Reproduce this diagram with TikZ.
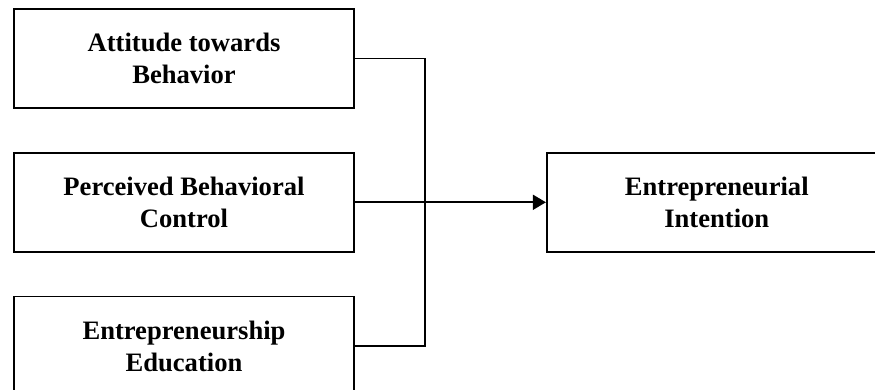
\documentclass[tikz,border=0pt]{standalone}
\usepackage{fontspec}
\setmainfont{Liberation Serif}
\usetikzlibrary{arrows.meta, positioning}

\begin{document}
\begin{tikzpicture}[
      x=0.5pt, y=0.5pt,
      node distance=21.5pt and 95.5pt,
      box/.style={draw, line width=0.9pt, minimum width=170pt, minimum height=49.5pt, align=center,
        font=\fontsize{13.3}{16}\selectfont\bfseries},
      link/.style={line width=0.9pt}
    ]
    \useasboundingbox (0,0) rectangle (875,390);
    \node[box] (att) at (184,331.5) {Attitude towards\\Behavior};
    \node[box, below=of att] (pbc) {Perceived Behavioral\\Control};
    \node[box, below=of pbc] (edu) {Entrepreneurship\\Education};
    \node[box, right=of pbc] (ei) {Entrepreneurial\\Intention};
    \coordinate[right=35pt of att.east] (bus);

    \draw[link] (att.east) -- (bus) |- (edu.east);
    \draw[link, -{Triangle[length=6.5pt, width=7.5pt]}] (pbc.east) -- (ei.west);
  \end{tikzpicture}
\end{document}
